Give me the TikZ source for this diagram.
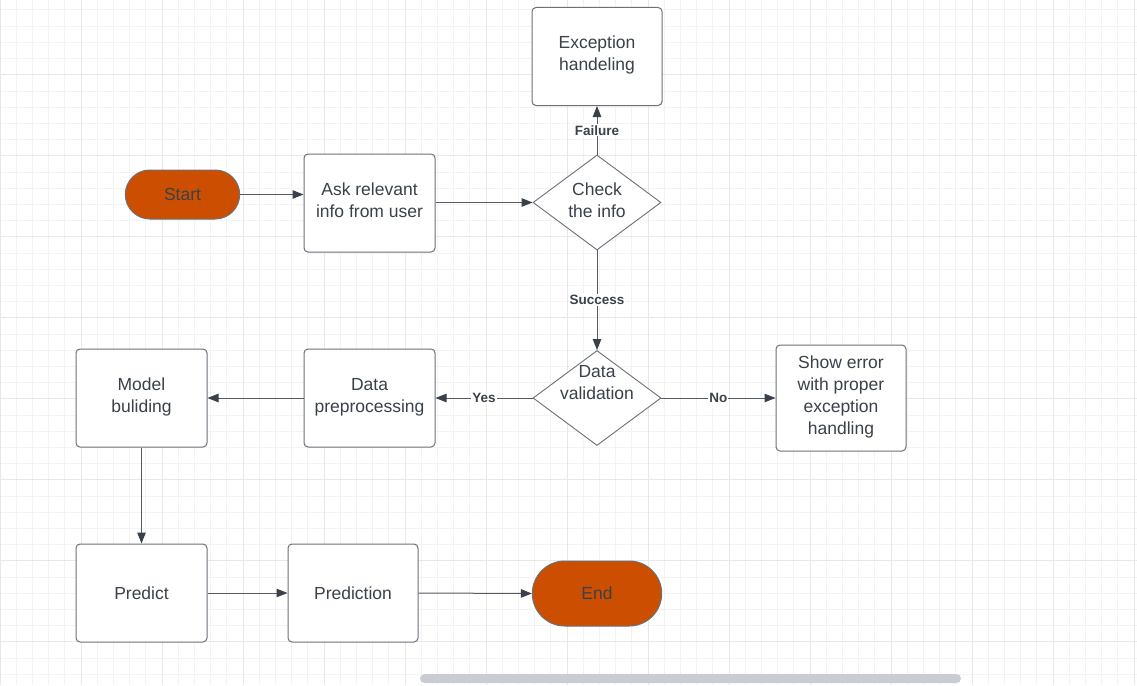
\documentclass[tikz,border=0pt]{standalone}
\usepackage{fontspec}
\setmainfont{Liberation Sans}
\usetikzlibrary{shapes.geometric,shapes.misc,arrows.meta}
\definecolor{inkgray}{HTML}{3A414A}
\definecolor{edgegray}{HTML}{6B7079}
\definecolor{linegray}{HTML}{555B63}
\definecolor{termorange}{HTML}{CC4E00}
\definecolor{gridminor}{HTML}{F3F3F3}
\definecolor{gridmajor}{HTML}{E8E8E8}
\definecolor{barcolor}{HTML}{C9CCD3}
\newcommand\lifted[2]{\smash{\raisebox{#1}{\begin{tabular}{@{}c@{}}#2\end{tabular}}}}

\begin{document}
\begin{tikzpicture}[x=1pt,y=-1pt,
  boxnode/.style={draw=edgegray,line width=1pt,fill=white,rounded corners=4pt,minimum width=131pt,minimum height=98pt,align=center,text=inkgray,font=\fontsize{17.5}{22}\selectfont},
  termnode/.style={rounded rectangle,draw=edgegray,line width=1pt,fill=termorange,minimum width=121pt,minimum height=49pt,text=inkgray,font=\fontsize{17.5}{22}\selectfont},
  decisionnode/.style={diamond,draw=edgegray,line width=.9pt,fill=white,inner sep=0pt,aspect=1.35,minimum width=128pt,minimum height=95pt,text=inkgray,font=\fontsize{17.5}{22}\selectfont},
  flow/.style={draw=linegray,line width=1pt,-{Triangle[length=11pt,width=8.5pt,color=inkgray]}},
  edgelabel/.style={fill=white,inner sep=1pt,text=inkgray,font=\bfseries\fontsize{13.5}{15}\selectfont}]
\path[use as bounding box] (0,0) rectangle (1137,685);
\fill[white] (0,0) rectangle (1137,685);
\begin{scope}
\clip (0,0) rectangle (1137,685);
\draw[gridminor,line width=.8pt] \foreach \gx in {0,...,70} {(16.2*\gx,0) -- (16.2*\gx,685)};
\draw[gridminor,line width=.8pt] \foreach \gy in {1,...,43} {(0,16.2*\gy-6.3) -- (1137,16.2*\gy-6.3)};
\draw[gridmajor,line width=1pt] \foreach \gx in {0,...,14} {(81*\gx,0) -- (81*\gx,685)};
\draw[gridmajor,line width=1pt] \foreach \gy in {1,...,8} {(0,81*\gy-6.3) -- (1137,81*\gy-6.3)};
\end{scope}
\fill[barcolor,rounded corners=4.5pt] (420,674) rectangle (961,683);

\node[termnode] (start) at (182.5,194.5) {Start};
\node[boxnode] (ask) at (369.5,203) {\lifted{-3pt}{Ask relevant\\info from user}};
\node[decisionnode] (check) at (597,202.5) {\lifted{-4pt}{Check\\the info}};
\node[boxnode,minimum width=130pt] (except) at (597,56.5) {\lifted{-3pt}{Exception\\handeling}};
\node[decisionnode] (valid) at (597,398) {\lifted{10pt}{Data\\validation}};
\node[boxnode,minimum width=130pt,minimum height=106pt] (showerr) at (841,398) {\lifted{-3.5pt}{Show error\\with proper\\exception\\handling}};
\node[boxnode] (prep) at (369.5,398) {\lifted{-3pt}{Data\\preprocessing}};
\node[boxnode] (model) at (141.5,398) {\lifted{-3pt}{Model\\buliding}};
\node[boxnode] (predict) at (141.5,593) {Predict};
\node[boxnode,minimum width=130pt] (prediction) at (353,593) {Prediction};
\node[termnode,minimum width=136pt,minimum height=65pt] (end) at (597,593.5) {End};

\draw[flow] (start.east) -- (start.east -| ask.west);
\draw[flow] (ask.east |- check) -- (check.west);
\draw[flow] (check.north) -- node[edgelabel] {Failure} (except.south);
\draw[flow] (check.south) -- node[edgelabel] {Success} (valid.north);
\draw[flow] (valid.west) -- node[edgelabel] {Yes} (prep.east);
\draw[flow] (valid.east) -- node[edgelabel] {No} (showerr.west);
\draw[flow] (prep.west) -- (model.east);
\draw[flow] (model.south) -- (predict.north);
\draw[flow] (predict.east) -- (prediction.west);
\draw[flow] (prediction.east) -- (end.west);
\end{tikzpicture}
\end{document}
